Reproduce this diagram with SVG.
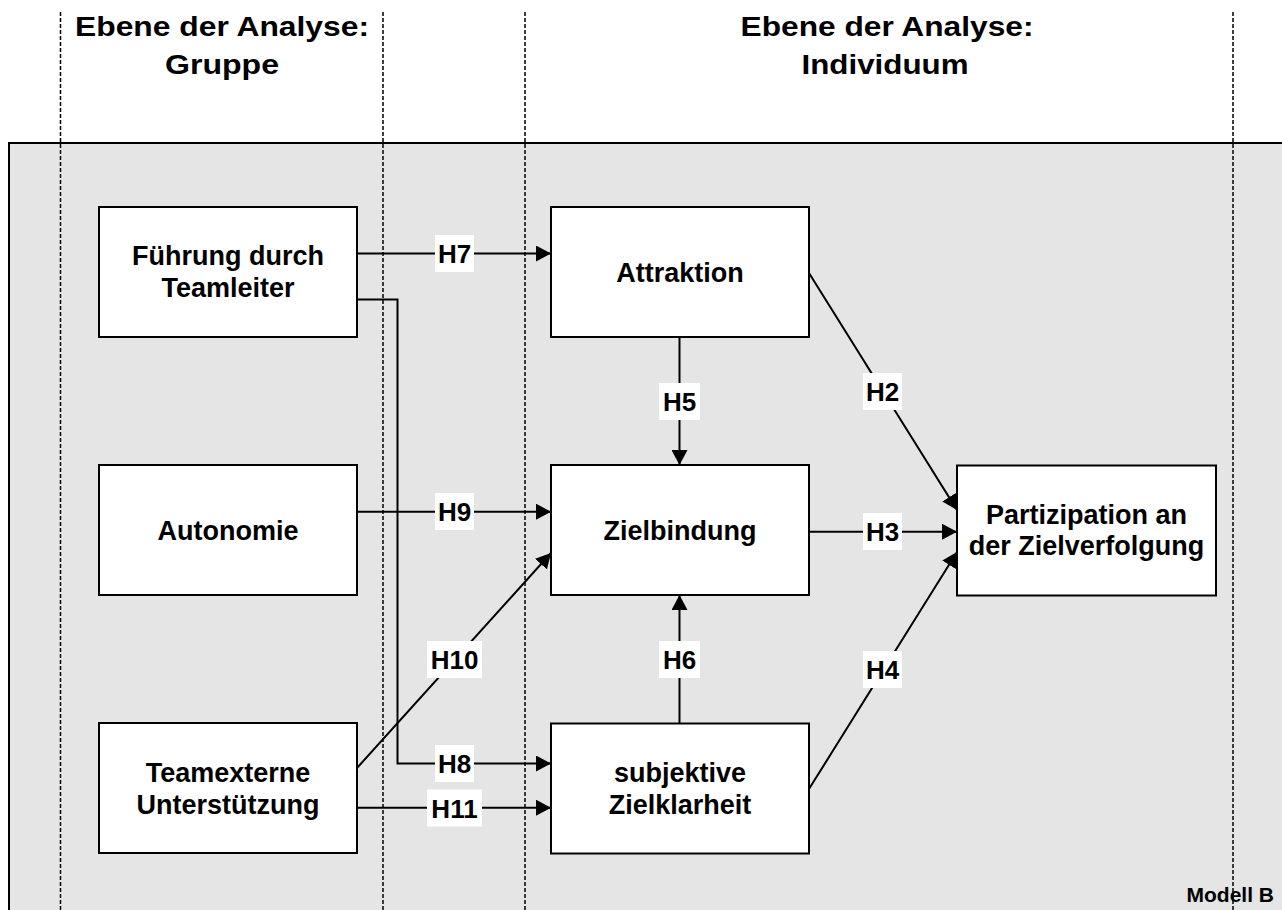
<svg xmlns="http://www.w3.org/2000/svg" width="1282" height="910" viewBox="0 0 1282 910">
<style>
  .bg { fill: #e5e5e5; stroke: #000; stroke-width: 2; }
  .div { stroke: #000; stroke-width: 1.5; stroke-dasharray: 4 2; fill: none; }
  .box { fill: #fff; stroke: #000; stroke-width: 2; }
  .t { font-family: "Liberation Sans", Arial, sans-serif; font-weight: bold; font-size: 27px; text-anchor: middle; fill: #000; }
  .hd { font-family: "Liberation Sans", Arial, sans-serif; font-weight: bold; font-size: 28.5px; text-anchor: middle; fill: #000; }
  .lab { fill: #fff; stroke: none; }
  .lt { font-family: "Liberation Sans", Arial, sans-serif; font-weight: bold; font-size: 26px; text-anchor: middle; fill: #000; }
  .c { stroke: #000; stroke-width: 2; fill: none; }
  .m { font-family: "Liberation Sans", Arial, sans-serif; font-weight: bold; font-size: 21px; text-anchor: end; fill: #000; }
</style>
<defs>
  <marker id="arr" markerUnits="userSpaceOnUse" markerWidth="16" markerHeight="16" refX="15" refY="8" orient="auto">
    <path d="M0,0 L15,8 L0,16 z" fill="#000"/>
  </marker>
</defs>

<rect class="bg" x="9" y="143" width="1290" height="800"/>

<g id="dividers">
  <line class="div" x1="60.5" y1="12" x2="60.5" y2="910"/>
  <line class="div" x1="383" y1="12" x2="383" y2="910"/>
  <line class="div" x1="525" y1="12" x2="525" y2="910"/>
  <line class="div" x1="1233" y1="12" x2="1233" y2="910"/>
</g>

<g id="headers">
  <text class="hd" x="222" y="36" textLength="294" lengthAdjust="spacingAndGlyphs">Ebene der Analyse:</text>
  <text class="hd" x="222" y="74" textLength="114" lengthAdjust="spacingAndGlyphs">Gruppe</text>
  <text class="hd" x="887" y="36" textLength="293" lengthAdjust="spacingAndGlyphs">Ebene der Analyse:</text>
  <text class="hd" x="885" y="74" textLength="167" lengthAdjust="spacingAndGlyphs">Individuum</text>
</g>

<g id="connectors">
  <line class="c" x1="357" y1="253.5" x2="551" y2="253.5" marker-end="url(#arr)"/>
  <polyline class="c" points="357,299.5 397.5,299.5 397.5,763.5 551,763.5" marker-end="url(#arr)"/>
  <line class="c" x1="357" y1="511.7" x2="551" y2="511.7" marker-end="url(#arr)"/>
  <line class="c" x1="357" y1="768" x2="551" y2="553" marker-end="url(#arr)"/>
  <line class="c" x1="357" y1="807.7" x2="551" y2="807.7" marker-end="url(#arr)"/>
  <line class="c" x1="679.5" y1="337" x2="679.5" y2="465" marker-end="url(#arr)"/>
  <line class="c" x1="679.5" y1="724" x2="679.5" y2="595" marker-end="url(#arr)"/>
  <line class="c" x1="809" y1="273" x2="957" y2="510" marker-end="url(#arr)"/>
  <line class="c" x1="809" y1="531.7" x2="957" y2="531.7" marker-end="url(#arr)"/>
  <line class="c" x1="809" y1="789" x2="957" y2="552" marker-end="url(#arr)"/>

  <rect class="lab" x="435" y="235" width="39" height="37"/>
  <text class="lt" x="454.5" y="263">H7</text>
  <rect class="lab" x="435" y="745" width="39" height="37"/>
  <text class="lt" x="454.5" y="773">H8</text>
  <rect class="lab" x="435" y="493" width="39" height="37"/>
  <text class="lt" x="454.5" y="521">H9</text>
  <rect class="lab" x="427" y="641" width="55" height="37"/>
  <text class="lt" x="454.5" y="669">H10</text>
  <rect class="lab" x="427" y="789.5" width="55" height="37"/>
  <text class="lt" x="454.5" y="817.5">H11</text>
  <rect class="lab" x="659" y="383" width="41" height="37"/>
  <text class="lt" x="679.5" y="411">H5</text>
  <rect class="lab" x="659" y="641" width="41" height="37"/>
  <text class="lt" x="679.5" y="669">H6</text>
  <rect class="lab" x="863" y="373" width="39" height="37"/>
  <text class="lt" x="882.5" y="401">H2</text>
  <rect class="lab" x="863" y="513" width="39" height="37"/>
  <text class="lt" x="882.5" y="541">H3</text>
  <rect class="lab" x="863" y="651" width="39" height="37"/>
  <text class="lt" x="882.5" y="679">H4</text>
</g>

<g id="fuehrung">
  <rect class="box" x="99" y="207" width="258" height="130"/>
  <text class="t" x="228" y="265">Führung durch</text>
  <text class="t" x="228" y="297">Teamleiter</text>
</g>
<g id="autonomie">
  <rect class="box" x="99" y="465" width="258" height="130"/>
  <text class="t" x="228" y="540">Autonomie</text>
</g>
<g id="teamextern">
  <rect class="box" x="99" y="723" width="258" height="130"/>
  <text class="t" x="228" y="782">Teamexterne</text>
  <text class="t" x="228" y="813.5">Unterstützung</text>
</g>
<g id="attraktion">
  <rect class="box" x="551" y="207" width="258" height="130"/>
  <text class="t" x="680" y="282">Attraktion</text>
</g>
<g id="zielbindung">
  <rect class="box" x="551" y="465" width="258" height="130"/>
  <text class="t" x="680" y="540">Zielbindung</text>
</g>
<g id="zielklarheit">
  <rect class="box" x="551" y="723.5" width="258" height="130"/>
  <text class="t" x="680" y="782">subjektive</text>
  <text class="t" x="680" y="813.5">Zielklarheit</text>
</g>
<g id="partizipation">
  <rect class="box" x="957" y="465.5" width="259" height="130"/>
  <text class="t" x="1086.5" y="523.5">Partizipation an</text>
  <text class="t" x="1086.5" y="555">der Zielverfolgung</text>
</g>

<text class="m" x="1274" y="902">Modell B</text>
</svg>
